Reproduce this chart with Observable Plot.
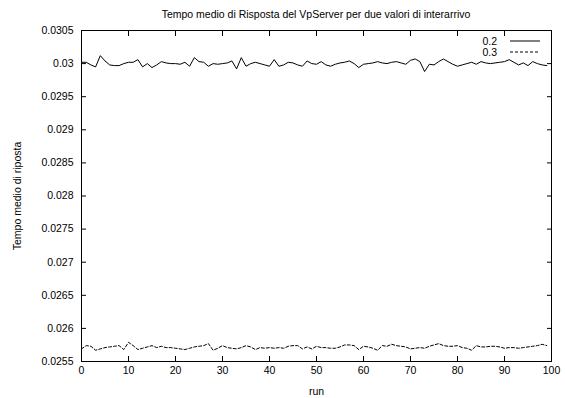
<!DOCTYPE html>
<html><head><meta charset="utf-8">
<script src="https://cdn.jsdelivr.net/npm/d3@7"></script>
<script src="https://cdn.jsdelivr.net/npm/@observablehq/plot@0.6"></script>
<style>
body{margin:0;background:#fff;font-family:"Liberation Sans",Arial,sans-serif;color:#000;}
#wrap{position:relative;width:565px;height:398px;overflow:hidden;}
#title{height:22px;box-sizing:border-box;padding:8px 14px 0 81px;line-height:12px;text-align:center;font-size:10.5px;white-space:nowrap;}
#legend{position:absolute;left:0;top:0;pointer-events:none;}
#legend text{font-size:10.5px;font-family:"Liberation Sans",Arial,sans-serif;}
</style></head>
<body>
<div id="wrap">
  <div id="title">Tempo medio di Risposta del VpServer per due valori di interarrivo</div>
  <div id="chart"></div>
  <svg id="legend" width="565" height="398"></svg>
</div>
<script>
const titleText = "Tempo medio di Risposta del VpServer per due valori di interarrivo";
const xLabel = "run";
const yLabel = "Tempo medio di riposta";
const seriesNames = ["0.2", "0.3"];
const xTicks = [0, 10, 20, 30, 40, 50, 60, 70, 80, 90, 100];
const yTicks = [0.0255, 0.026, 0.0265, 0.027, 0.0275, 0.028, 0.0285, 0.029, 0.0295, 0.03, 0.0305];
const yTickLabels = ["0.0255", "0.026", "0.0265", "0.027", "0.0275", "0.028", "0.0285", "0.029", "0.0295", "0.03", "0.0305"];

const s02 = [
  0.03002, 0.03002, 0.02998, 0.02995, 0.03012, 0.03004, 0.02998, 0.02997, 0.02997, 0.03000,
  0.03002, 0.03002, 0.03006, 0.02995, 0.03000, 0.02994, 0.02998, 0.03003, 0.03001, 0.03000,
  0.03000, 0.02999, 0.03002, 0.02996, 0.03009, 0.03003, 0.03002, 0.02996, 0.03000, 0.02999,
  0.03000, 0.03001, 0.03004, 0.02992, 0.03009, 0.02996, 0.03000, 0.03002, 0.03000, 0.02998,
  0.02996, 0.03006, 0.02996, 0.02998, 0.03002, 0.03001, 0.02998, 0.02996, 0.03004, 0.03000,
  0.02999, 0.03003, 0.02998, 0.02996, 0.02999, 0.03001, 0.03002, 0.03004, 0.03000, 0.02994,
  0.02999, 0.03000, 0.03001, 0.03003, 0.03001, 0.03000, 0.03002, 0.03003, 0.03001, 0.02999,
  0.03005, 0.03007, 0.03003, 0.02988, 0.02999, 0.02998, 0.03003, 0.03007, 0.03003, 0.02999,
  0.02996, 0.02998, 0.03000, 0.03002, 0.02999, 0.03003, 0.03001, 0.03000, 0.03001, 0.03002,
  0.03003, 0.03006, 0.03002, 0.02998, 0.03001, 0.02997, 0.03003, 0.03000, 0.02998, 0.02997
];
const s03 = [
  0.02569, 0.02574, 0.02573, 0.02567, 0.02569, 0.02571, 0.02572, 0.02573, 0.02574, 0.02568,
  0.02579, 0.02574, 0.02568, 0.02570, 0.02572, 0.02574, 0.02571, 0.02573, 0.02571, 0.02571,
  0.02570, 0.02569, 0.02568, 0.02570, 0.02572, 0.02573, 0.02574, 0.02577, 0.02567, 0.02570,
  0.02574, 0.02571, 0.02570, 0.02569, 0.02571, 0.02574, 0.02572, 0.02568, 0.02571, 0.02570,
  0.02571, 0.02570, 0.02571, 0.02570, 0.02573, 0.02574, 0.02574, 0.02569, 0.02572, 0.02569,
  0.02573, 0.02571, 0.02571, 0.02570, 0.02570, 0.02572, 0.02575, 0.02575, 0.02574, 0.02568,
  0.02573, 0.02572, 0.02570, 0.02567, 0.02574, 0.02573, 0.02576, 0.02574, 0.02573, 0.02572,
  0.02569, 0.02570, 0.02571, 0.02570, 0.02573, 0.02575, 0.02577, 0.02574, 0.02573, 0.02573,
  0.02574, 0.02571, 0.02570, 0.02567, 0.02574, 0.02572, 0.02572, 0.02573, 0.02573, 0.02572,
  0.02570, 0.02571, 0.02571, 0.02570, 0.02571, 0.02572, 0.02573, 0.02574, 0.02576, 0.02574
];

const d02 = s02.map((v, i) => ({run: i, value: v}));
const d03 = s03.map((v, i) => ({run: i, value: v}));
const yFmt = d => yTickLabels[yTicks.indexOf(d)] ?? String(d);

const chart = Plot.plot({
  width: 565,
  height: 376,
  marginTop: 8,
  marginBottom: 37,
  marginLeft: 81,
  marginRight: 14,
  style: {fontSize: "10.5px", fontFamily: "'Liberation Sans', Arial, sans-serif", color: "#000", background: "#fff"},
  x: {domain: [0, 100]},
  y: {domain: [0.0255, 0.0305]},
  marks: [
    Plot.frame({stroke: "#000"}),
    Plot.axisX({anchor: "bottom", ticks: xTicks, tickSize: -5, tickPadding: 10, label: xLabel, labelAnchor: "center", labelOffset: 33, labelArrow: "none"}),
    Plot.axisX({anchor: "top", ticks: xTicks, tickSize: -5, tickFormat: () => "", label: null}),
    Plot.axisY({anchor: "left", ticks: yTicks, tickFormat: yFmt, tickSize: -5, tickPadding: 13, label: yLabel, labelAnchor: "center", labelOffset: 68, labelArrow: "none"}),
    Plot.axisY({anchor: "right", ticks: yTicks, tickSize: -5, tickFormat: () => "", label: null}),
    Plot.line(d02, {x: "run", y: "value", stroke: "#000", strokeWidth: 1}),
    Plot.line(d03, {x: "run", y: "value", stroke: "#000", strokeWidth: 1, strokeDasharray: "3,2"})
  ]
});
document.getElementById("chart").appendChild(chart);

// legend (inside plot, top-right, as in the gnuplot original)
const lg = d3.select("#legend");
const rows = [{name: seriesNames[0], dash: null, y: 41}, {name: seriesNames[1], dash: "3,2", y: 52}];
rows.forEach(r => {
  lg.append("text").attr("x", 497).attr("y", r.y).attr("text-anchor", "end").attr("dy", "0.35em").attr("fill", "#000").text(r.name);
  lg.append("line").attr("x1", 510).attr("x2", 540).attr("y1", r.y).attr("y2", r.y)
    .attr("stroke", "#000").attr("stroke-width", 1).attr("stroke-dasharray", r.dash);
});
</script>
</body></html>
